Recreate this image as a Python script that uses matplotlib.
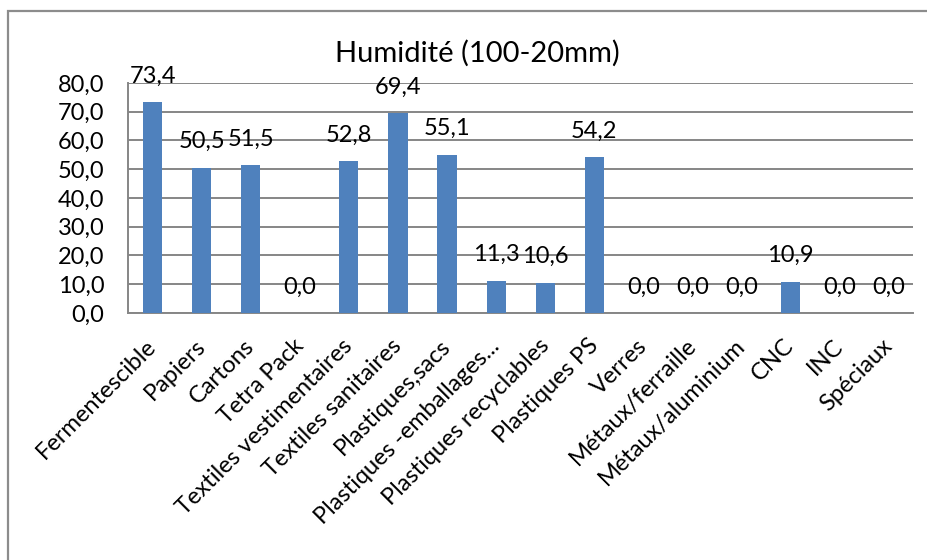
import numpy as np
import matplotlib
matplotlib.use("Agg")
import matplotlib.pyplot as plt
import matplotlib.transforms as mtransforms
from matplotlib.patches import Rectangle

categories = [
    "Fermentescible", "Papiers", "Cartons", "Tetra Pack",
    "Textiles vestimentaires", "Textiles sanitaires", "Plastiques,sacs",
    "Plastiques -emballages...", "Plastiques recyclables", "Plastiques PS",
    "Verres", "Métaux/ferraille", "Métaux/aluminium", "CNC", "INC", "Spéciaux",
]
humidite = [73.4, 50.5, 51.5, 0.0, 52.8, 69.4, 55.1, 11.3, 10.6, 54.2,
            0.0, 0.0, 0.0, 10.9, 0.0, 0.0]
yticks = [0, 10, 20, 30, 40, 50, 60, 70, 80]

BAR = "#4F81BD"
GRID = "#868686"


def fr(v):
    return f"{v:.1f}".replace(".", ",")


plt.rcParams["font.family"] = ["Lato", "DejaVu Sans"]

fig = plt.figure(figsize=(9.28, 5.6), dpi=100)
ax = fig.add_axes([0.138, 0.441, 0.846, 0.411])

# outer chart frame
fig.patches.append(Rectangle((8.5 / 928, -0.1), 1.2, 1 - 10.5 / 560 + 0.1,
                             transform=fig.transFigure, fill=False,
                             edgecolor="#8c8c8c", linewidth=1.6))

x = np.arange(len(categories))
ax.bar(x, humidite, width=0.39, color=BAR, zorder=3)

for xi, v in zip(x, humidite):
    ax.annotate(fr(v), (xi, v), xytext=(0, 26), textcoords="offset pixels",
                ha="center", va="center", fontsize=17, color="black")

ax.set_xlim(-0.5, len(categories) - 0.5)
ax.set_ylim(0, 80)
ax.set_yticks(yticks)
ax.set_yticklabels([fr(t) for t in yticks], fontsize=17)
ax.yaxis.grid(True, color=GRID, linewidth=1.4, zorder=0)
ax.tick_params(axis="y", length=0, pad=17)
ax.tick_params(axis="x", length=0, pad=8)

ax.set_xticks(x)
ax.set_xticklabels(categories, rotation=45, ha="right",
                   rotation_mode="anchor", fontsize=17)
# nudge the slanted labels a little down and left
shift = mtransforms.ScaledTranslation(-7 / 100, -11 / 100, fig.dpi_scale_trans)
for lbl in ax.get_xticklabels():
    lbl.set_transform(lbl.get_transform() + shift)

for side in ("top", "right"):
    ax.spines[side].set_visible(False)
for side in ("left", "bottom"):
    ax.spines[side].set_color(GRID)
    ax.spines[side].set_linewidth(1.4)

fig.text(477 / 928, 1 - 53 / 560, "Humidité (100-20mm)", ha="center",
         va="center", fontsize=21)

fig.savefig("out.png", dpi=100)
